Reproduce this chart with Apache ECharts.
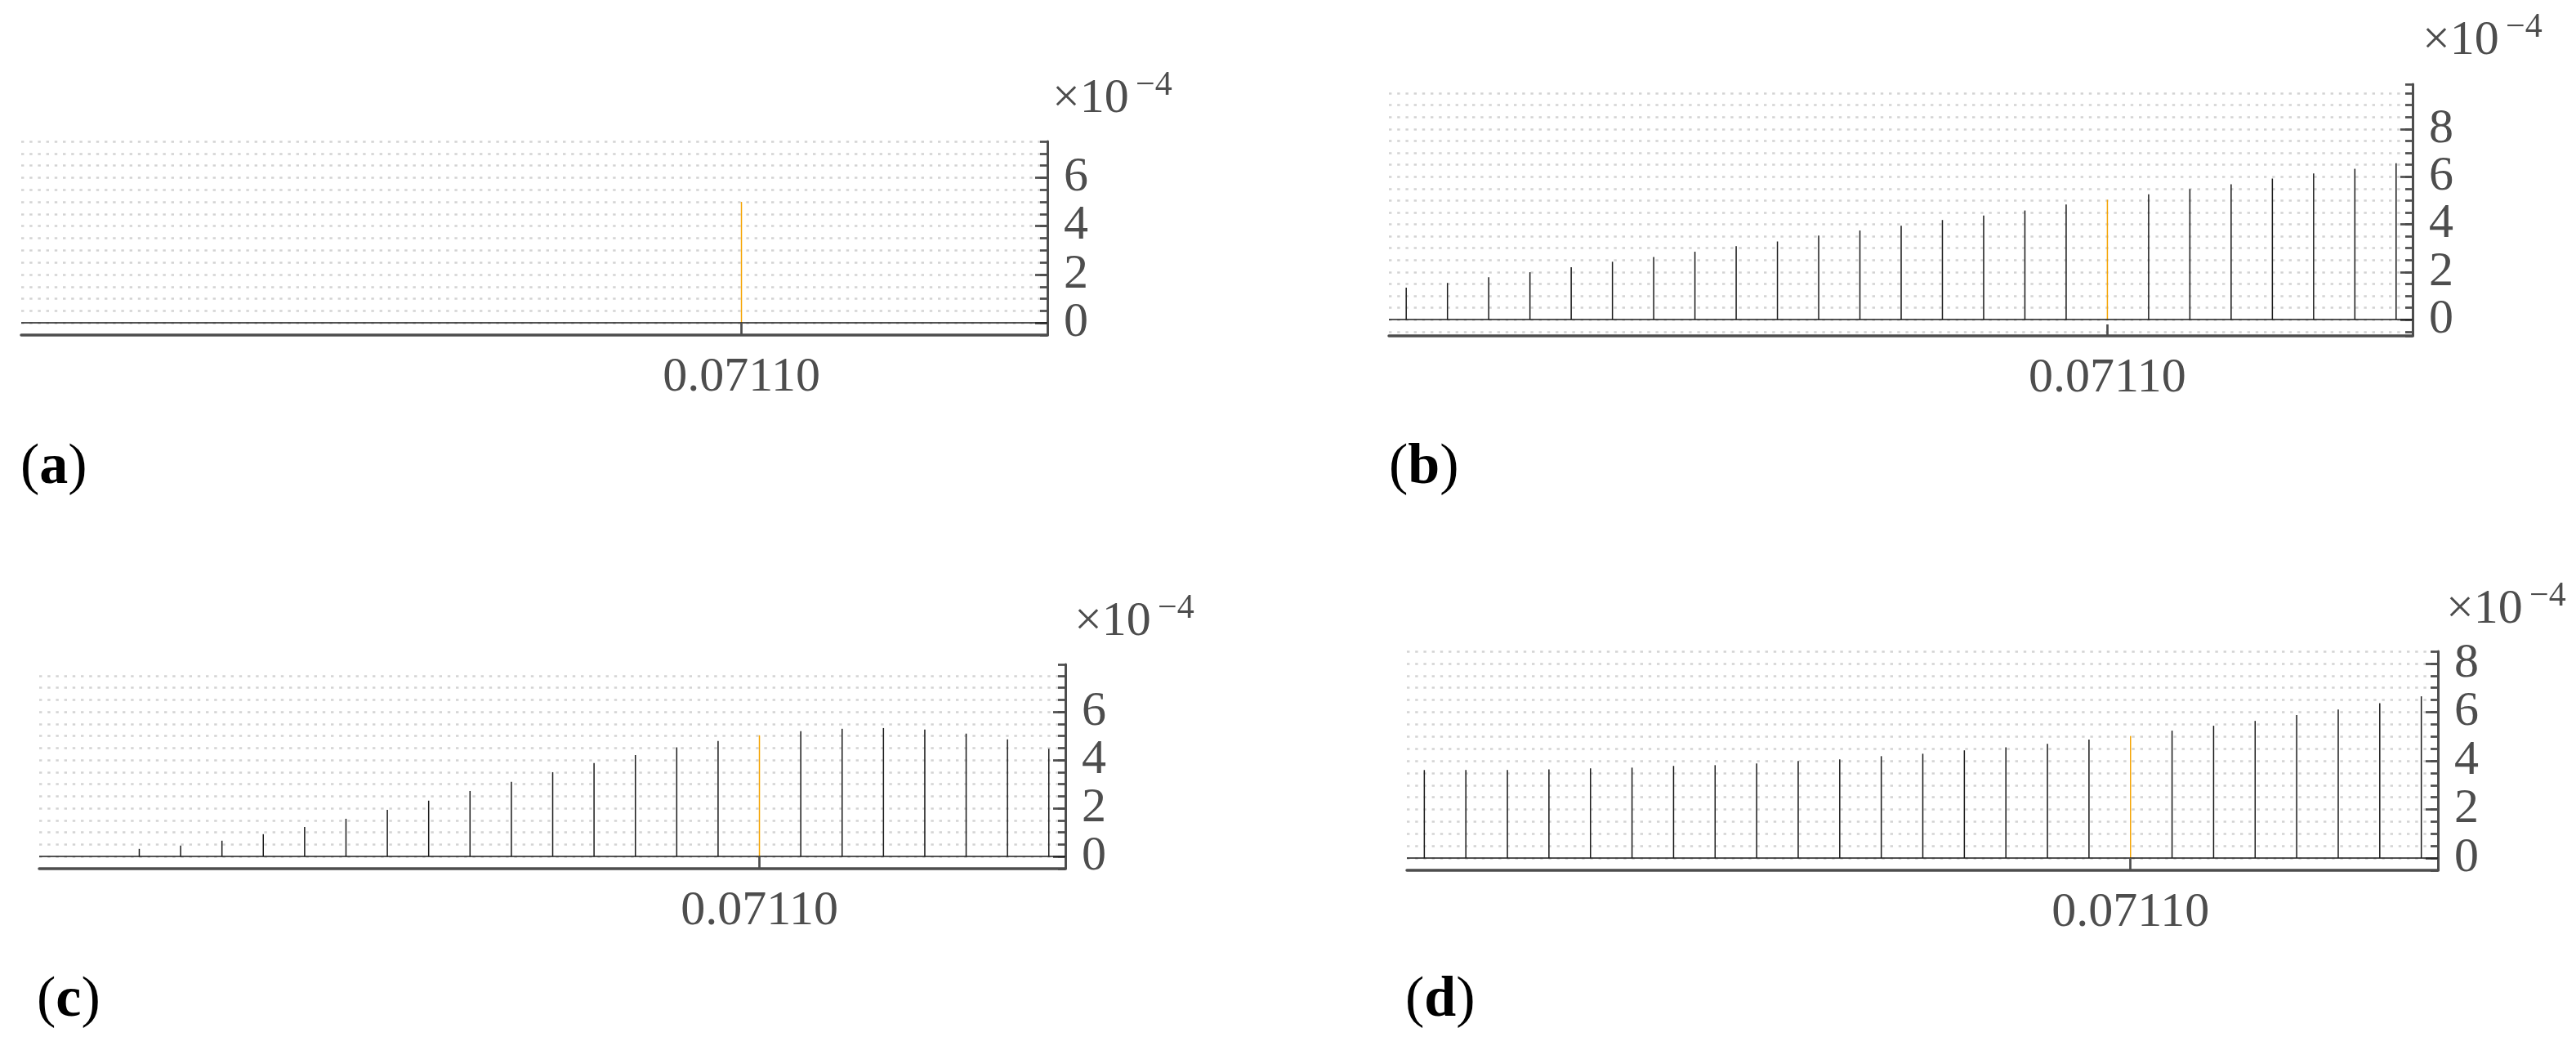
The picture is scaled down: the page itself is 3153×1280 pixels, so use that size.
<!DOCTYPE html>
<html>
<head>
<meta charset="utf-8">
<script src="https://cdn.jsdelivr.net/npm/echarts@6/dist/echarts.min.js"></script>
<style>
html,body{margin:0;padding:0;background:#fff;}
#chart{width:3153px;height:1280px;}
</style>
</head>
<body>
<div id="chart"></div>
<script>
// ---- data (values in units of 1e-4) ----
const stemIndex = [0,1,2,3,4,5,6,7,8,9,10,11,12,13,14,15,16,17,18,19,20,21,22,23,24];
const highlightIndex = 17;
const xTickPositions = [17];
const xTickLabels = ['0.07110'];
const panelLabels = ['a', 'b', 'c', 'd'];
const scaleLabel = '\u00d710';
const scaleExponent = '\u22124';

const valuesA = [0,0,0,0,0,0,0,0,0,0,0,0,0,0,0,0,0,5.0,0,0,0,0,0,0,0];
const valuesB = [1.34,1.54,1.78,1.99,2.20,2.43,2.63,2.85,3.08,3.28,3.53,3.74,3.94,4.18,4.37,4.58,4.83,5.03,5.26,5.48,5.68,5.92,6.13,6.33,6.56];
const valuesC = [0,0,0.32,0.46,0.66,0.93,1.23,1.57,1.94,2.32,2.72,3.10,3.50,3.88,4.21,4.53,4.79,5.03,5.20,5.30,5.33,5.27,5.10,4.86,4.47];
const valuesD = [3.62,3.62,3.62,3.65,3.69,3.72,3.79,3.82,3.89,3.99,4.06,4.19,4.29,4.43,4.55,4.70,4.87,5.02,5.24,5.44,5.64,5.88,6.11,6.37,6.65];

const yLabelTicks = [0, 2, 4, 6, 8];

// ---- layout ----
const FONT = '"Liberation Serif", "DejaVu Serif", serif';
const AX = '#4d4d4d';
const X_MIN = -0.42, X_MAX = 24.4;
const panels = [
  {values: valuesA, left: 26,   top: 173, width: 1256, height: 237, ymin: -0.5,  ymax: 7.5,  showMax: true,  lab: [25, 573],   sc: [1288, 121]},
  {values: valuesB, left: 1700, top: 103, width: 1253, height: 308, ymin: -0.68, ymax: 9.88, showMax: false, lab: [1700, 573], sc: [2965, 50]},
  {values: valuesC, left: 48,   top: 813, width: 1256, height: 250, ymin: -0.5,  ymax: 7.97, showMax: false, lab: [45, 1225],  sc: [1315, 761]},
  {values: valuesD, left: 1722, top: 797, width: 1262, height: 268, ymin: -0.5,  ymax: 8.5,  showMax: true,  lab: [1720, 1225], sc: [2994, 746]}
];

const grids = [], xAxes = [], yAxes = [], series = [], graphics = [];
const n = panels.length;
panels.forEach((p, i) => {
  grids.push({left: p.left, top: p.top, width: p.width, height: p.height, containLabel: false});
  xAxes.push({
    gridIndex: i, type: 'value', min: X_MIN, max: X_MAX,
    axisLine: {show: true, onZero: false, lineStyle: {color: AX, width: 3.5}},
    axisTick: {show: true, inside: true, length: 14, customValues: xTickPositions, lineStyle: {color: AX, width: 2.7}},
    axisLabel: {show: true, customValues: xTickPositions, margin: 22, color: AX, fontFamily: FONT, fontSize: 60,
      formatter: v => { const k = xTickPositions.indexOf(Math.round(v)); return k >= 0 ? xTickLabels[k] : ''; }},
    splitLine: {show: false}
  });
  yAxes.push({
    gridIndex: i, type: 'value', position: 'right', min: p.ymin, max: p.ymax, minInterval: 0.5, maxInterval: 0.5,
    axisLine: {show: true, onZero: false, lineStyle: {color: AX, width: 3}},
    axisTick: {show: true, inside: true, length: 9, lineStyle: {color: AX, width: 2.7}},
    axisLabel: {show: true, margin: 20, color: AX, fontFamily: FONT, fontSize: 60,
      formatter: v => (v >= 0 && Math.abs(v / 2 - Math.round(v / 2)) < 1e-6) ? String(Math.round(v)) : ''},
    splitLine: {show: true, showMinLine: false, showMaxLine: p.showMax, lineStyle: {color: '#d3d3d3', width: 2.7, type: [3.4, 6.8]}}
  });
  series.push({
    type: 'bar', xAxisIndex: i, yAxisIndex: i, barWidth: 1.5,
    data: stemIndex.map((x, k) => [x, p.values[k]]),
    itemStyle: {color: params => params.dataIndex === highlightIndex ? '#f5a300' : '#1a1a1a'},
    markLine: {silent: true, symbol: 'none', label: {show: false},
      lineStyle: {color: '#1a1a1a', width: 1.5, type: 'solid'}, data: [{yAxis: 0}]},
    animation: false
  });
  graphics.push({
    type: 'text', x: p.lab[0], y: p.lab[1],
    style: {text: '(' + '{b|' + panelLabels[i] + '})', fill: '#000', font: '70px ' + FONT,
      verticalAlign: 'middle', textVerticalAlign: 'middle',
      rich: {b: {fontWeight: 'bold', fontSize: 70, fontFamily: FONT, fill: '#000', color: '#000'}}}
  });
  graphics.push({
    type: 'text', x: p.sc[0], y: p.sc[1],
    style: {text: scaleLabel, fill: AX, font: '60px ' + FONT, verticalAlign: 'middle', textVerticalAlign: 'middle'}
  });
  graphics.push({
    type: 'text', x: p.sc[0] + 102, y: p.sc[1] - 16,
    style: {text: scaleExponent, fill: AX, font: '42px ' + FONT, verticalAlign: 'middle', textVerticalAlign: 'middle'}
  });
});
// overlay grids carrying the longer major ticks of the right-hand axes
panels.forEach((p, i) => {
  grids.push({left: p.left, top: p.top, width: p.width, height: p.height, containLabel: false});
  xAxes.push({gridIndex: n + i, type: 'value', min: X_MIN, max: X_MAX, show: false});
  yAxes.push({
    gridIndex: n + i, type: 'value', position: 'right', min: p.ymin, max: p.ymax,
    axisLine: {show: false, onZero: false},
    axisTick: {show: true, inside: true, length: 15, customValues: yLabelTicks.filter(v => v <= p.ymax), lineStyle: {color: AX, width: 2.7}},
    axisLabel: {show: false},
    splitLine: {show: false}
  });
});

const chart = echarts.init(document.getElementById('chart'), null, {renderer: 'canvas'});
chart.setOption({
  animation: false,
  backgroundColor: '#fff',
  grid: grids, xAxis: xAxes, yAxis: yAxes, series: series, graphic: graphics
});
</script>
</body>
</html>
